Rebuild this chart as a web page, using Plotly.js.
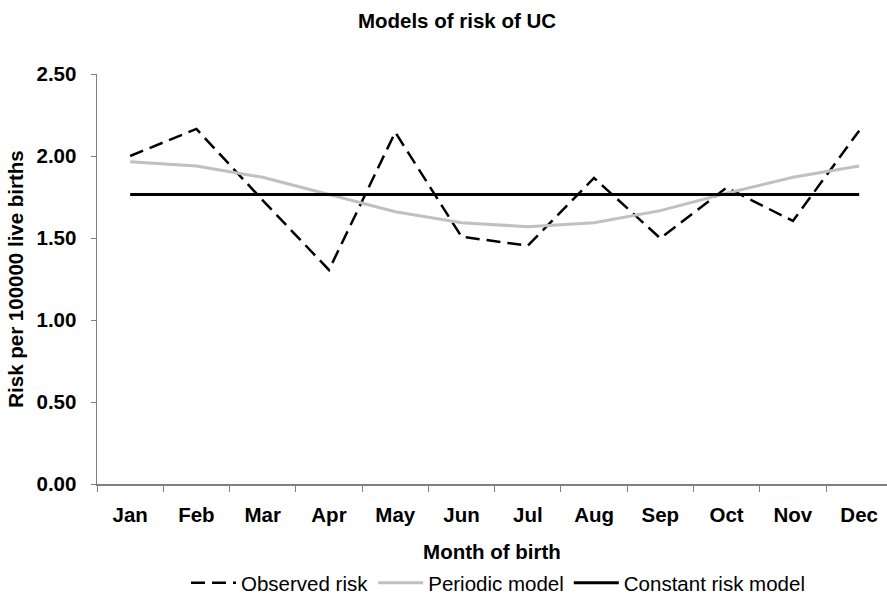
<!DOCTYPE html>
<html>
<head>
<meta charset="utf-8">
<script src="https://cdn.plot.ly/plotly-3.0.1.min.js"></script>
<style>html,body{margin:0;padding:0;background:#fff;}#chart{width:887px;height:596px;}</style>
</head>
<body>
<div id="chart"></div>
<script>
const months = ["Jan","Feb","Mar","Apr","May","Jun","Jul","Aug","Sep","Oct","Nov","Dec"];
const observedRisk = [2.00, 2.165, 1.73, 1.305, 2.145, 1.508, 1.453, 1.866, 1.498, 1.807, 1.604, 2.154];
const periodicModel = [1.965, 1.939, 1.87, 1.766, 1.66, 1.593, 1.569, 1.593, 1.667, 1.773, 1.87, 1.939];
const constantRisk = [1.766, 1.766, 1.766, 1.766, 1.766, 1.766, 1.766, 1.766, 1.766, 1.766, 1.766, 1.766];
const yTicks = [0, 0.5, 1.0, 1.5, 2.0, 2.5];

const FONT = "Liberation Sans, Arial, sans-serif";
const FS = 20.5;

const traces = [
  {x: months, y: observedRisk, name: "Observed risk", type: "scatter", mode: "lines",
   line: {color: "#000000", width: 2.5, dash: "14px,7px"}},
  {x: months, y: periodicModel, name: "Periodic model", type: "scatter", mode: "lines",
   line: {color: "#c0c0c0", width: 3}},
  {x: months, y: constantRisk, name: "Constant risk model", type: "scatter", mode: "lines",
   line: {color: "#000000", width: 3}}
];

const layout = {
  width: 887, height: 596,
  margin: {l: 97, r: 0, t: 74, b: 112},
  paper_bgcolor: "#ffffff", plot_bgcolor: "#ffffff",
  font: {family: FONT, color: "#000000"},
  showlegend: true,
  title: {text: "<b>Models of risk of UC</b>", font: {family: FONT, size: FS, color: "#000"},
          x: 457/887, xref: "container", xanchor: "center", y: 1 - 21/596, yref: "container", yanchor: "middle"},
  xaxis: {
    type: "category", range: [-0.5, 11.42], tickson: "boundaries",
    ticks: "outside", ticklen: 6, tickcolor: "#808080", tickwidth: 1,
    showline: true, linecolor: "#808080", linewidth: 1.5,
    showgrid: false, zeroline: false,
    tickfont: {family: FONT, size: FS, color: "#000", weight: "bold"},
    ticklabelstandoff: 12,
    title: {text: "<b>Month of birth</b>", font: {family: FONT, size: FS, color: "#000"}, standoff: 20}
  },
  yaxis: {
    range: [0, 2.5], tickvals: yTicks, tickformat: ".2f",
    ticks: "outside", ticklen: 5, tickcolor: "#808080", tickwidth: 1,
    showline: true, linecolor: "#808080", linewidth: 1.5,
    showgrid: false, zeroline: false,
    tickfont: {family: FONT, size: FS, color: "#000", weight: "bold"},
    ticklabelstandoff: 10,
    title: {text: "<b>Risk per 100000 live births</b>", font: {family: FONT, size: FS, color: "#000"}, standoff: 7}
  },
  legend: {orientation: "h", xref: "container", yref: "container", x: 498/887, xanchor: "center",
           y: 1 - 583/596, yanchor: "middle", font: {family: FONT, size: FS, color: "#000"},
           itemwidth: 45, tracegroupgap: 0, bgcolor: "rgba(0,0,0,0)"}
};

Plotly.newPlot("chart", traces, layout, {displayModeBar: false, staticPlot: true});
</script>
</body>
</html>
